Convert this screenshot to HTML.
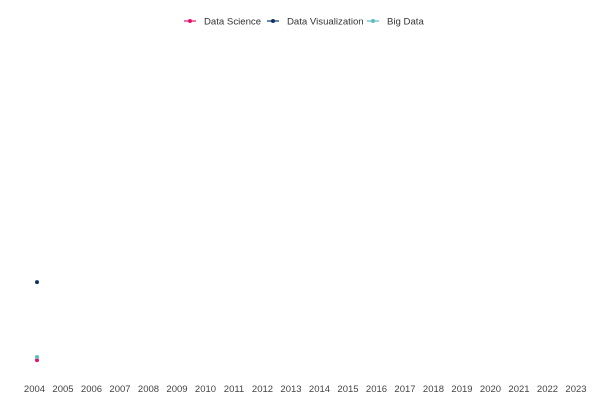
<!DOCTYPE html>
<html><head><meta charset="utf-8"><style>
body{margin:0;background:#fff;font-family:"Liberation Sans",sans-serif}
svg{display:block}
</style></head><body>
<svg id="chart" width="600" height="400">
<g id="legend"></g>
<g id="xaxis"></g>
<g id="marks"></g>
</svg>
<script>
const years = [2004,2005,2006,2007,2008,2009,2010,2011,2012,2013,2014,2015,2016,2017,2018,2019,2020,2021,2022,2023];
const seriesNames = ["Data Science","Data Visualization","Big Data"];
const seriesColors = ["#e8106e","#0d3563","#5bbfbf"];
const dataScience = [3.4];
const dataVisualization = [30.3];
const bigData = [4.5];
const seriesValues = [dataScience, dataVisualization, bigData];

const NS="http://www.w3.org/2000/svg";
function mk(t,a,p){const e=document.createElementNS(NS,t);for(const k in a)e.setAttribute(k,a[k]);p.appendChild(e);return e;}
const x0=34.5, step=28.5;
function xScale(i){return x0+i*step;}
function yScale(v){return 370-2.9*v;}

const xg=document.getElementById('xaxis');
years.forEach((y,i)=>{
  const t=mk('text',{x:xScale(i),y:392,'text-anchor':'middle','font-size':'9.5','fill':'#444'},xg);
  t.textContent=y;
  
  
});

const mg=document.getElementById('marks');
seriesValues.forEach((vals,s)=>{
  vals.forEach((v,i)=>{
    if(v==null)return;
    const c=mk('circle',{cx:xScale(i)+2.5,cy:yScale(v),r:2,fill:seriesColors[s]},mg);
    
    
  });
});

const lg=document.getElementById('legend');
const legX=[184,267,367];
seriesNames.forEach((n,s)=>{
  const g=mk('g',{},lg);
  
  
  mk('line',{x1:legX[s],x2:legX[s]+12,y1:21,y2:21,stroke:seriesColors[s],'stroke-width':1.2},g);
  mk('circle',{cx:legX[s]+6,cy:21,r:2,fill:seriesColors[s]},g);
  const t=mk('text',{x:legX[s]+20,y:24.5,'font-size':'9.6',fill:'#333'},g);
  t.textContent=n;
});
</script>
</body></html>
